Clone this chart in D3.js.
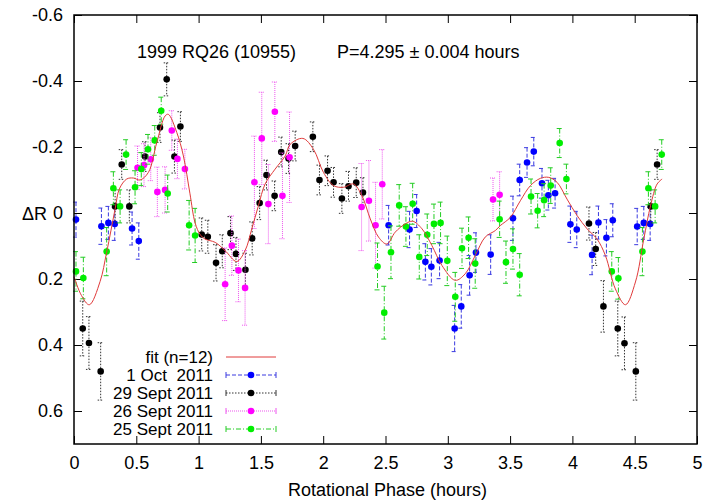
<!DOCTYPE html>
<html><head><meta charset="utf-8">
<script src="https://cdn.jsdelivr.net/npm/d3@7"></script>
<style>body{margin:0;background:#fff}svg text{font-family:"Liberation Sans",Arial,sans-serif;fill:#000}</style>
</head><body><svg id="c" width="704" height="502"></svg>
<script>
const xTicks = [0,0.5,1,1.5,2,2.5,3,3.5,4,4.5,5];
const yTicks = [-0.6,-0.4,-0.2,0,0.2,0.4,0.6];
const titleObj = "1999 RQ26 (10955)";
const titlePer = "P=4.295 \u00b1 0.004 hours";
const xLabel = "Rotational Phase (hours)";
const yLabel = "\u0394R";

const fitX = [0,0.06,0.123,0.209,0.262,0.33,0.364,0.423,0.476,0.53,0.597,0.664,0.731,0.757,0.825,0.878,0.93,0.972,1.012,1.052,1.133,1.213,1.306,1.373,1.427,1.48,1.534,1.614,1.695,1.735,1.837,1.922,2.002,2.083,2.163,2.243,2.311,2.378,2.444,2.511,2.578,2.659,2.718,2.793,2.873,2.953,3.06,3.14,3.22,3.3,3.382,3.422,3.502,3.582,3.663,3.743,3.81,3.877,3.957,4.038,4.118,4.198,4.265,4.345,4.426,4.506,4.573,4.627,4.68,4.72];
const fitY = [0.193,0.25,0.278,0.208,0.119,-0.012,-0.073,-0.103,-0.106,-0.1,-0.123,-0.213,-0.294,-0.299,-0.244,-0.173,-0.06,0.03,0.065,0.079,0.089,0.114,0.147,0.114,0.048,-0.022,-0.088,-0.133,-0.173,-0.208,-0.226,-0.193,-0.123,-0.083,-0.078,-0.088,-0.052,0.018,0.073,0.094,0.058,0.033,0.025,0.048,0.099,0.159,0.204,0.184,0.129,0.073,0.053,0.038,0.013,-0.037,-0.083,-0.105,-0.108,-0.093,-0.042,0.008,0.048,0.079,0.129,0.23,0.278,0.209,0.079,-0.022,-0.088,-0.103];

const oct1X = [0.016,0.22,0.276,0.327,0.466,0.52,2.525,2.693,2.75,2.82,2.868,2.934,3.055,3.108,3.175,3.226,3.344,3.523,3.577,3.636,3.69,3.756,3.807,3.861,3.984,4.035,4.158,4.209,4.273,4.324,4.52,4.573,4.624];
const oct1Y = [0.02,0.04,0.03,0.033,0.047,0.085,0.037,0.05,-0.006,0.148,0.163,0.144,0.35,0.283,0.189,0.12,0.126,0.016,-0.1,-0.153,-0.186,-0.09,-0.054,-0.06,0.034,0.05,0.127,0.029,0.075,0.022,0.041,0.03,0.033];
const oct1E = [0.053,0.055,0.05,0.05,0.05,0.055,0.06,0.055,0.05,0.055,0.055,0.055,0.07,0.066,0.06,0.06,0.06,0.067,0.048,0.045,0.043,0.045,0.045,0.045,0.055,0.055,0.06,0.05,0.055,0.05,0.055,0.05,0.05];

const sep29X = [0.07,0.12,0.214,0.33,0.383,0.444,0.57,0.69,0.744,0.806,0.854,1.025,1.074,1.14,1.19,1.256,1.30,1.376,1.43,1.49,1.545,1.61,1.663,1.722,1.775,1.917,1.97,2.035,2.083,2.15,2.203,2.265,2.319,4.133,4.187,4.249,4.364,4.418,4.509,4.629,4.68];
const sep29Y = [0.35,0.394,0.48,-0.02,-0.147,-0.02,-0.171,-0.259,-0.405,-0.171,-0.262,0.065,0.072,0.151,0.116,0.061,0.124,0.172,0.077,-0.03,-0.115,-0.052,-0.185,-0.165,-0.203,-0.231,-0.1,-0.128,-0.093,-0.044,-0.081,-0.092,-0.062,0.032,0.109,0.283,0.35,0.395,0.48,-0.02,-0.147];
const sep29E = [0.083,0.08,0.087,0.05,0.045,0.05,0.045,0.045,0.05,0.05,0.045,0.05,0.05,0.055,0.05,0.05,0.05,0.05,0.05,0.05,0.045,0.045,0.045,0.045,0.045,0.045,0.045,0.045,0.045,0.045,0.045,0.045,0.045,0.05,0.05,0.078,0.083,0.08,0.087,0.05,0.045];

const sep26X = [0.51,0.562,0.616,0.669,0.731,0.785,0.83,0.89,1.213,1.267,1.32,1.373,1.448,1.507,1.56,1.612,1.673,1.73,2.308,2.367,2.42,2.474,3.363,3.416];
const sep26Y = [-0.137,-0.145,-0.163,-0.064,-0.07,-0.25,-0.164,-0.133,0.216,0.099,0.174,0.227,-0.093,-0.226,-0.027,-0.307,-0.052,-0.169,-0.018,-0.037,0.037,-0.087,-0.041,-0.055];
const sep26E = [0.066,0.065,0.065,0.075,0.07,0.06,0.06,0.06,0.11,0.09,0.095,0.113,0.14,0.14,0.12,0.09,0.13,0.137,0.132,0.122,0.13,0.105,0.065,0.07];

const sep25X = [0.016,0.075,0.262,0.316,0.37,0.418,0.49,0.54,0.594,0.648,0.70,0.752,0.924,0.972,2.436,2.49,2.544,2.61,2.664,2.718,2.771,2.835,2.889,2.942,2.996,3.06,3.114,3.167,3.22,3.416,3.467,3.523,3.577,3.668,3.721,3.773,3.826,3.898,3.952,4.316,4.369,4.562,4.61,4.664,4.717];
const sep25Y = [0.177,0.197,0.117,-0.075,-0.02,-0.177,-0.078,-0.133,-0.193,-0.22,-0.31,-0.059,0.037,0.068,0.162,0.302,0.119,-0.023,0.041,-0.028,0.133,0.066,0.033,0.03,0.145,0.254,0.107,0.075,0.153,0.019,0.149,0.109,0.187,-0.05,-0.007,-0.039,-0.083,-0.212,-0.103,0.177,0.198,0.117,-0.075,-0.02,-0.177];
const sep25E = [0.06,0.063,0.073,0.05,0.05,0.045,0.05,0.05,0.045,0.045,0.041,0.056,0.075,0.082,0.071,0.08,0.08,0.063,0.06,0.062,0.067,0.063,0.06,0.063,0.075,0.074,0.061,0.063,0.075,0.055,0.064,0.061,0.064,0.053,0.052,0.05,0.054,0.044,0.045,0.06,0.063,0.073,0.05,0.05,0.045];

const seriesNames = ["1 Oct  2011","29 Sept 2011","26 Sept 2011","25 Sept 2011"];
const fitName = "fit (n=12)";

const svg = d3.select("#c");
const L=74,R=697,T=15,B=444;
const x = d3.scaleLinear().domain([0,5]).range([L,R]);
const y = d3.scaleLinear().domain([-0.6,0.7]).range([T,B]);

const styles = [
  {pt:"#0000ff", bar:"#3a3ae0", dash:"4,2"},
  {pt:"#000000", bar:"#333333", dash:"1.5,1.5"},
  {pt:"#ff00ff", bar:"#ee55ee", dash:"1,1"},
  {pt:"#00ee00", bar:"#22cc22", dash:"5,2,1,2"}
];
const series = [
  {x:oct1X,y:oct1Y,e:oct1E},
  {x:sep29X,y:sep29Y,e:sep29E},
  {x:sep26X,y:sep26Y,e:sep26E},
  {x:sep25X,y:sep25Y,e:sep25E}
];

// axes (hyphen-minus labels as in the reference)
const fmt = d => String(+(+d).toFixed(1));
const ax = svg.append("g");
ax.append("g").attr("transform",`translate(0,${B})`).call(d3.axisBottom(x).tickValues(xTicks).tickSize(-8).tickPadding(12).tickFormat(fmt));
ax.append("g").attr("transform",`translate(0,${T})`).call(d3.axisTop(x).tickValues(xTicks).tickSize(-8).tickFormat(""));
ax.append("g").attr("transform",`translate(${L},0)`).call(d3.axisLeft(y).tickValues(yTicks).tickSize(-8).tickPadding(11).tickFormat(fmt));
ax.append("g").attr("transform",`translate(${R},0)`).call(d3.axisRight(y).tickValues(yTicks).tickSize(-8).tickFormat(""));
ax.selectAll(".domain").remove();
ax.selectAll(".tick line").attr("stroke","#000").attr("stroke-width",1);
ax.selectAll(".tick text").attr("font-size",18).attr("font-family","Liberation Sans, Arial, sans-serif");

// data series
const cap = 3;
series.forEach((s,i)=>{
  const st = styles[i];
  const g = svg.append("g");
  const pts = s.x.map((v,k)=>({x:v,y:s.y[k],e:s.e[k]}));
  const eb = g.selectAll("g.eb").data(pts).join("g").attr("fill","none").attr("stroke",st.bar).attr("stroke-width",1).attr("stroke-dasharray",st.dash);
  eb.append("line").attr("x1",d=>x(d.x)).attr("x2",d=>x(d.x)).attr("y1",d=>y(d.y-d.e)).attr("y2",d=>y(d.y+d.e));
  eb.append("line").attr("x1",d=>x(d.x)-cap).attr("x2",d=>x(d.x)+cap).attr("y1",d=>y(d.y-d.e)).attr("y2",d=>y(d.y-d.e)).attr("stroke-dasharray",null);
  eb.append("line").attr("x1",d=>x(d.x)-cap).attr("x2",d=>x(d.x)+cap).attr("y1",d=>y(d.y+d.e)).attr("y2",d=>y(d.y+d.e)).attr("stroke-dasharray",null);
  g.selectAll("circle").data(pts).join("circle").attr("cx",d=>x(d.x)).attr("cy",d=>y(d.y)).attr("r",3.3).attr("fill",st.pt);
});

// fit
const fitPts = fitX.map((v,k)=>[v,fitY[k]]);
svg.append("path").datum(fitPts).attr("fill","none").attr("stroke","#e03a3a").attr("stroke-width",1)
  .attr("d",d3.line().x(d=>x(d[0])).y(d=>y(d[1])).curve(d3.curveCatmullRom.alpha(0.5)));

// frame
svg.append("rect").attr("x",L).attr("y",T).attr("width",R-L).attr("height",B-T).attr("fill","none").attr("stroke","#000").attr("stroke-width",1.5);

// titles
svg.append("text").attr("x",137).attr("y",58).attr("font-size",18).text(titleObj);
svg.append("text").attr("x",337).attr("y",58).attr("font-size",18).text(titlePer);
svg.append("text").attr("x",(L+R)/2+2).attr("y",496).attr("text-anchor","middle").attr("font-size",18).text(xLabel);
svg.append("text").attr("x",22).attr("y",220).attr("font-size",18).text(yLabel);

// legend
const legY0 = 357, legDy = 18, lx1 = 226, lx2 = 276, tx = 213;
const lg = svg.append("g");
lg.append("text").attr("x",tx).attr("y",legY0+6).attr("text-anchor","end").attr("font-size",17).text(fitName);
lg.append("line").attr("x1",lx1).attr("x2",lx2).attr("y1",legY0).attr("y2",legY0).attr("stroke","#e03a3a").attr("stroke-width",1);
seriesNames.forEach((n,i)=>{
  const yy = legY0 + legDy*(i+1);
  const st = styles[i];
  lg.append("text").attr("x",tx).attr("y",yy+6).attr("text-anchor","end").attr("font-size",17).style("white-space","pre").text(n);
  lg.append("line").attr("x1",lx1).attr("x2",lx2).attr("y1",yy).attr("y2",yy).attr("stroke",st.bar).attr("stroke-dasharray",st.dash);
  [lx1,lx2].forEach(xx=>lg.append("line").attr("x1",xx).attr("x2",xx).attr("y1",yy-3).attr("y2",yy+3).attr("stroke",st.bar));
  lg.append("circle").attr("cx",(lx1+lx2)/2).attr("cy",yy).attr("r",3.3).attr("fill",st.pt);
});
</script></body></html>
